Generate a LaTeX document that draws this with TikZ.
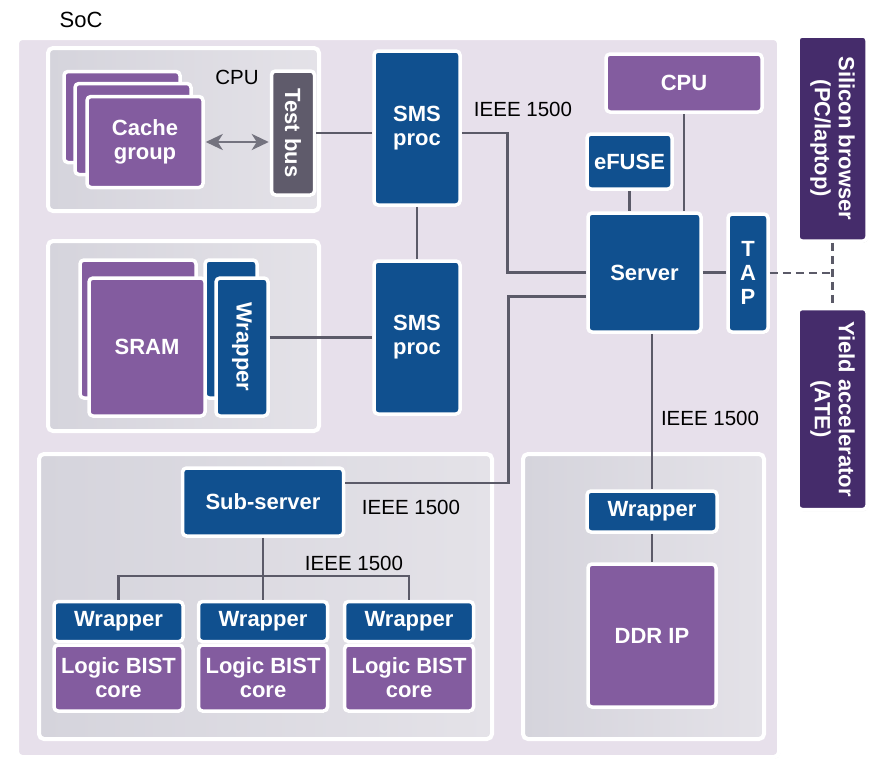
\documentclass[tikz,border=0pt]{standalone}
\usepackage{fontspec}
\setmainfont{Liberation Sans}
\usepackage{tikz}
\usetikzlibrary{positioning,calc,shadows,arrows.meta}

\definecolor{socblue}{HTML}{10508F}
\definecolor{socpurple}{HTML}{835C9F}
\definecolor{socdark}{HTML}{452C6B}
\definecolor{busgrey}{HTML}{5F5B6B}
\definecolor{wiregrey}{HTML}{5B5A68}
\definecolor{socfill}{HTML}{E7E0EB}
\definecolor{grpleft}{HTML}{D5D4DC}
\definecolor{grpright}{HTML}{E4E2E8}

\tikzset{
  blk/.style={rounded corners=4pt, draw=white, line width=3.5pt, text=white,
    font=\bfseries\fontsize{22}{24}\selectfont, align=center, inner sep=0pt,
    drop shadow={opacity=0.25, shadow xshift=1pt, shadow yshift=-1.5pt}},
  blue/.style={blk, fill=socblue},
  purple/.style={blk, fill=socpurple},
  dark/.style={blk, fill=socdark},
  grp/.style={rounded corners=5pt, draw=white, line width=4pt,
    left color=grpleft, right color=grpright,
    drop shadow={opacity=0.2, shadow xshift=1pt, shadow yshift=-1.5pt}},
  wire/.style={draw=wiregrey, line width=2.8pt},
  lbl/.style={font=\fontsize{20.5}{24}\selectfont, inner sep=0pt},
}

\begin{document}
\begin{tikzpicture}[x=1pt,y=-1pt]
    \useasboundingbox (0,0) rectangle (885,779);

    % SoC outline and groups
    \node[lbl, font=\fontsize{22}{24}\selectfont] (soclbl) at (81,20) {SoC};
    \path[rounded corners=5pt, draw=white, line width=4pt, fill=socfill,
      drop shadow={opacity=0.2, shadow xshift=1pt, shadow yshift=-1.5pt}]
      (17,38) rectangle (779,757);
    \path[grp] (48,48) rectangle (319,211);
    \path[grp] (48,241) rectangle (319,431);
    \path[grp] (39,454) rectangle (492,739);
    \path[grp] (523,454) rectangle (764,739);

    % CPU with cache groups
    \node[purple, minimum width=116, minimum height=91] (cache3) at (122,117) {};
    \node[purple, minimum width=116, minimum height=91] (cache2) at (133,129) {};
    \node[purple, minimum width=116, minimum height=91] (cache) at (145,142) {Cache\\group};
    \node[lbl] (cpulbl) at (237,77) {CPU};
    \node[blk, fill=busgrey, rotate=-90, minimum width=124, minimum height=43] (testbus) at (293,133) {Test bus};
    \draw[draw=wiregrey!85, fill=wiregrey!85, line width=2.8pt,
      arrows={Stealth[length=17pt,width=16pt,inset=5pt]-Stealth[length=17pt,width=16pt,inset=5pt]}]
      ([xshift=1pt]cache.east) -- ([xshift=-1pt]cache.east -| testbus.south);

    % SRAM with wrappers
    \node[purple, minimum width=116, minimum height=138] (sram2) at (138,329) {};
    \node[blue, rotate=-90, minimum width=138, minimum height=52] (wrap2) at (231,329) {};
    \node[purple, minimum width=116, minimum height=138] (sram) at (147,347) {SRAM};
    \node[blue, rotate=-90, minimum width=138, minimum height=52] (wrap) at (242,347) {Wrapper};

    % SMS processors
    \node[blue, minimum width=86, minimum height=154] (sms1) at (417,128) {SMS\\proc};
    \node[blue, minimum width=86, minimum height=153] (sms2) at (417,337.5) {SMS\\proc};
    \draw[wire] (testbus.north) -- (testbus.north -| sms1.west);
    \draw[wire] (wrap.north |- sms2.west) -- (sms2.west);
    \draw[wire] (sms1.south) -- (sms2.north);

    % Server side
    \node[purple, minimum width=156, minimum height=58] (cpu) at (684,83) {CPU};
    \node[blue, minimum width=85, minimum height=55] (efuse) at (629.5,161.5) {eFUSE};
    \node[blue, minimum width=113, minimum height=119] (server) at (644.5,272.5) {Server};
    \node[blue, minimum width=40, minimum height=118] (tap) at (748,273) {T\\A\\P};
    \draw[wire] (efuse.south) -- (efuse.south |- server.north);
    \draw[wire] (cpu.south) -- (cpu.south |- server.north);
    \draw[wire] (server.east) -- (server.east -| tap.west);
    \node[lbl] (ieee1) at (523,109) {IEEE 1500};
    \draw[wire] (sms1.east |- testbus.north) -- ++(46,0) |- (server.west);

    % Outside the SoC
    \node[dark, rotate=-90, minimum width=205, minimum height=69] (browser) at (832.5,138.5) {Silicon browser\\(PC/laptop)};
    \node[dark, rotate=-90, minimum width=201, minimum height=69] (yield) at (832.5,409) {Yield accelerator\\(ATE)};
    \draw[wire, dash pattern=on 8pt off 5pt] (tap.east) -- (tap.east -| browser.east);
    \draw[wire, dash pattern=on 8pt off 5pt] (browser.east) -- (yield.west);

    % Logic BIST cores
    \node[blue, minimum width=161, minimum height=68] (subsrv) at (263,502) {Sub-server};
    \node[lbl] (ieee2) at (411,507) {IEEE 1500};
    \draw[wire] ([yshift=19pt]subsrv.east) -| ([xshift=-78pt,yshift=-24pt]server.west) -- ([yshift=-24pt]server.west);
    \foreach \i/\x in {1/118.5, 2/263, 3/409} {
      \node[purple, minimum width=129, minimum height=66] (core\i) at (\x,678) {Logic BIST\\core};
      \node[blue, minimum width=129, minimum height=40] (w\i) at (\x,621.5) {Wrapper};
    }
    \coordinate (bus) at (263,576);
    \draw[wire] (w1.north) |- (bus) -| (w3.north);
    \draw[wire] (subsrv.south) -- (w2.north);
    \node[lbl] (ieee3) at (354,563) {IEEE 1500};

    % DDR
    \node[blue, minimum width=130, minimum height=41] (ddrwrap) at (652,511.5) {Wrapper};
    \node[purple, minimum width=128, minimum height=143] (ddr) at (652,635.5) {DDR IP};
    \draw[wire] (ddrwrap.north |- server.south) -- (ddrwrap.north);
    \draw[wire] (ddrwrap.south) -- (ddr.north);
    \node[lbl] (ieee4) at (710,418) {IEEE 1500};
\end{tikzpicture}
\end{document}
